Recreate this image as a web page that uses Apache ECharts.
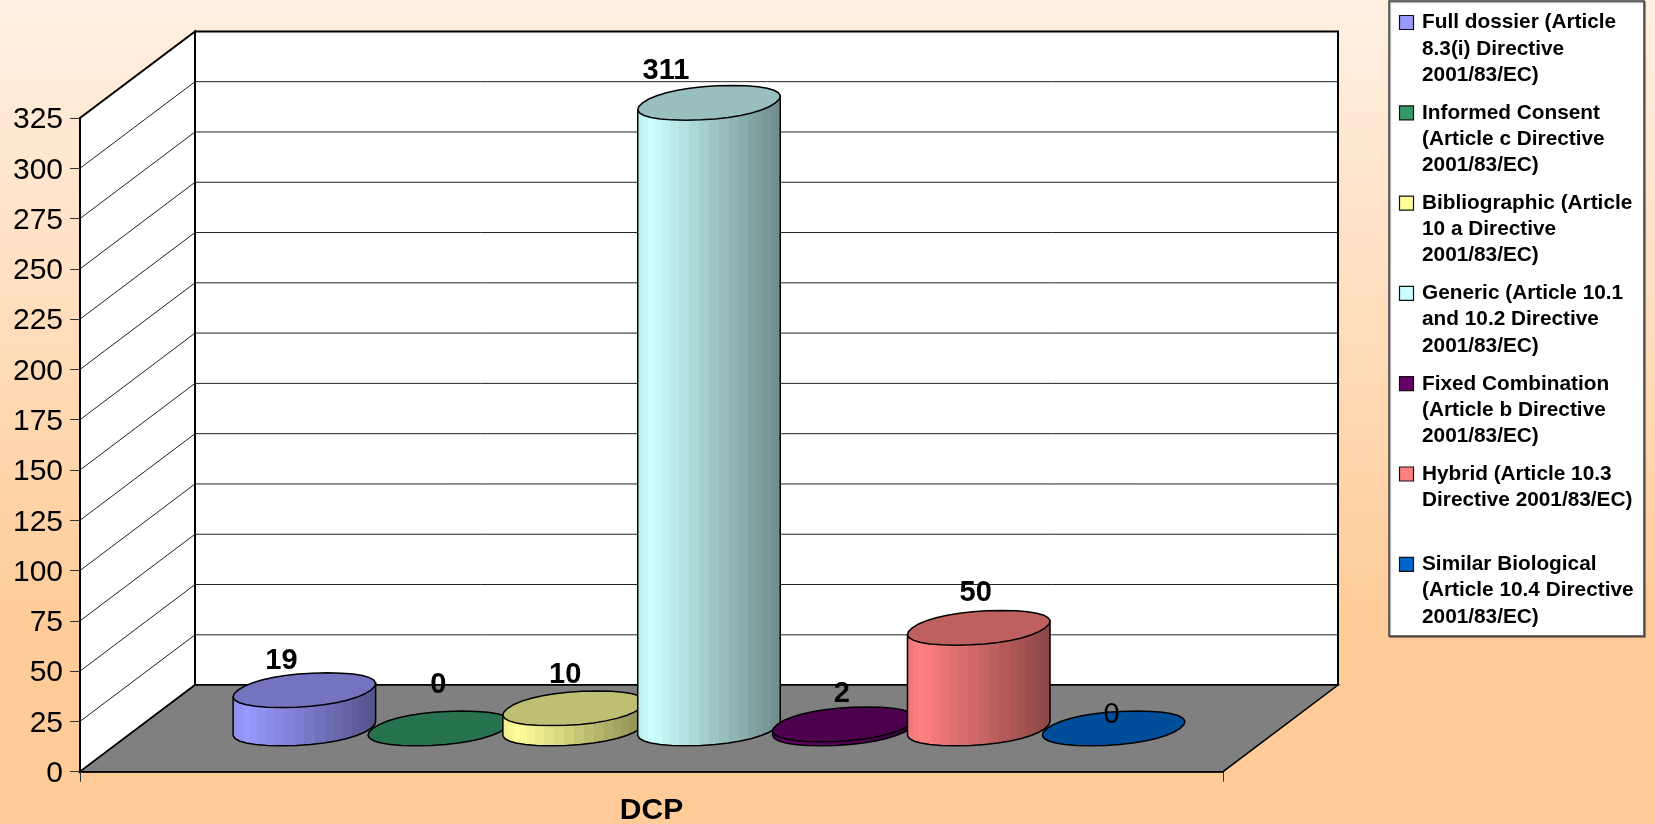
<!DOCTYPE html>
<html>
<head>
<meta charset="utf-8">
<title>DCP</title>
<script src="https://cdn.jsdelivr.net/npm/echarts@6/dist/echarts.min.js"></script>
<style>
html, body { margin: 0; padding: 0; }
#main { width: 1655px; height: 824px; }
</style>
</head>
<body>
<div id="main"></div>
<script>
const categories = ['DCP'];
const yTicks = [0, 25, 50, 75, 100, 125, 150, 175, 200, 225, 250, 275, 300, 325];
const seriesNames = [
	'Full dossier (Article\n8.3(i) Directive\n2001/83/EC)',
	'Informed Consent\n(Article c Directive\n2001/83/EC)',
	'Bibliographic (Article\n10 a Directive\n2001/83/EC)',
	'Generic (Article 10.1\nand 10.2 Directive\n2001/83/EC)',
	'Fixed Combination\n(Article b Directive\n2001/83/EC)',
	'Hybrid (Article 10.3\nDirective 2001/83/EC)',
	'Similar Biological\n(Article 10.4 Directive\n2001/83/EC)'
];
const seriesValues = [19, 0, 10, 311, 2, 50, 0];
const seriesColors = ['#9999FF', '#339966', '#FFFF99', '#CCFFFF', '#660066', '#FF8080', '#0066CC'];

// excel put the data labels wherever it liked, so these are by hand
const labelShiftX = [-23, -1, -9, -43, -2, -3, -2];
const labelShiftY = [-12, -26, -16, -15, -13, -18, 4];
const labelWeight = ['bold', 'bold', 'bold', 'bold', 'bold', 'bold', 'normal'];

const FONT = '"Liberation Sans", Arial, sans-serif';
const DEPTH_X = 115;
const DEPTH_Y = -86.6;
const SLOT = 0.118; // one cylinder as part of the category band
const ROUNDNESS = 0.92; // the excel ellipses are a bit fatter than true ones
const LEGEND_X = 1389;
const LEGEND_W = 255;
const LEGEND_H = 636;

const shade = (hex, k) => {
	const n = parseInt(hex.slice(1), 16);
	const r = Math.round((n >> 16 & 255) * k);
	const g = Math.round((n >> 8 & 255) * k);
	const b = Math.round((n & 255) * k);
	return 'rgb(' + r + ',' + g + ',' + b + ')';
};

// the side of a cylinder is faceted, so the gradient has hard stops
const bodyFill = (hex) => {
	const stops = [];
	const N = 22;
	for (let k = 0; k < N; k++) {
		const a = (1 - Math.cos(Math.PI * k / N)) / 2;
		const b = (1 - Math.cos(Math.PI * (k + 1) / N)) / 2;
		const m = (a + b) / 2;
		const f = m < 0.1 ? 0.92 + 0.8 * m : 1 - (m - 0.1) / 0.9 * 0.46;
		stops.push({ offset: a, color: shade(hex, f) });
		stops.push({ offset: b, color: shade(hex, f) });
	}
	return new echarts.graphic.LinearGradient(0, 0, 1, 0, stops);
};

const wallsItem = (params, api) => {
	const g = params.coordSys;
	const left = g.x;
	const right = g.x + g.width;
	const top = g.y;
	const bottom = g.y + g.height;
	const line = { stroke: '#000', lineWidth: 2, fill: '#fff' };
	const children = [
		{ type: 'polygon', shape: { points: [[left, bottom], [left, top], [left + DEPTH_X, top + DEPTH_Y], [left + DEPTH_X, bottom + DEPTH_Y]] }, style: line },
		{ type: 'polygon', shape: { points: [[left + DEPTH_X, top + DEPTH_Y], [right + DEPTH_X, top + DEPTH_Y], [right + DEPTH_X, bottom + DEPTH_Y], [left + DEPTH_X, bottom + DEPTH_Y]] }, style: line }
	];
	yTicks.forEach((t) => {
		if (t === 0 || t === yTicks[yTicks.length - 1]) return;
		const y = api.coord([0, t])[1];
		children.push({
			type: 'polyline',
			shape: { points: [[left, y], [left + DEPTH_X, y + DEPTH_Y], [right + DEPTH_X, y + DEPTH_Y]] },
			style: { stroke: '#222', lineWidth: 1, fill: null }
		});
	});
	children.push({
		type: 'polygon',
		shape: { points: [[left, bottom], [right, bottom], [right + DEPTH_X, bottom + DEPTH_Y], [left + DEPTH_X, bottom + DEPTH_Y]] },
		style: { fill: '#808080', stroke: '#000', lineWidth: 1.5 }
	});
	return { type: 'group', children: children };
};

const pow = (v) => Math.sign(v) * Math.pow(Math.abs(v), ROUNDNESS);

const cylinderItem = (i) => (params, api) => {
	const band = api.size([1, 0])[0];
	const base = api.coord([0, 0]);
	const head = api.coord([0, api.value(1)]);
	const rx = band * SLOT / 2 * 0.985;
	const qx = DEPTH_X * 0.2;
	const qy = DEPTH_Y * 0.2;
	const cx = base[0] + (i - 3) * band * SLOT + DEPTH_X * 0.5;
	const baseY = base[1] + DEPTH_Y * 0.5;
	const topY = head[1] + DEPTH_Y * 0.5;
	const at = (t, y) => [cx + rx * pow(Math.cos(t)) + qx * pow(Math.sin(t)), y + qy * pow(Math.sin(t))];

	// walk the ring and find the two side tips
	const STEPS = 32;
	let tipR = 0;
	let tipL = 0;
	const ring = [];
	for (let k = 0; k < STEPS; k++) {
		ring.push(at(k / STEPS * Math.PI * 2, topY));
		if (ring[k][0] > ring[tipR][0]) tipR = k;
		if (ring[k][0] < ring[tipL][0]) tipL = k;
	}

	const children = [];
	if (api.value(1) > 0) {
		// lower half of the base, from the right tip round to the left tip
		const body = [];
		for (let k = tipR + STEPS; k >= tipL; k--) {
			body.push(at(k / STEPS * Math.PI * 2, baseY));
		}
		body.push(ring[tipL]);
		body.push(ring[tipR]);
		children.push({
			type: 'polygon',
			shape: { points: body },
			style: { fill: bodyFill(seriesColors[i]), stroke: '#000', lineWidth: 1.5 }
		});
	}
	children.push({
		type: 'polygon',
		shape: { points: ring },
		style: { fill: shade(seriesColors[i], 0.75), stroke: '#000', lineWidth: 1.5 }
	});
	children.push({
		type: 'text',
		style: {
			text: String(api.value(1)),
			x: cx + labelShiftX[i],
			y: topY + qy + labelShiftY[i],
			align: 'center',
			verticalAlign: 'middle',
			font: labelWeight[i] + ' 29px ' + FONT,
			fill: '#000'
		}
	});
	return { type: 'group', children: children };
};

// legend drawn by hand: the swatch has to sit on the first line of the name
const legendGraphic = () => {
	const items = [{
		type: 'rect',
		shape: { x: LEGEND_X, y: 1, width: LEGEND_W, height: LEGEND_H - 1 },
		style: { fill: '#fff', stroke: '#444', lineWidth: 1.5, shadowColor: 'rgba(0,0,0,0.45)', shadowOffsetX: 1, shadowOffsetY: 1, shadowBlur: 1 }
	}];
	seriesNames.forEach((name, i) => {
		const y = 22.5 + i * 90.3;
		items.push({
			type: 'rect',
			shape: { x: LEGEND_X + 10.5, y: y - 7, width: 14, height: 14 },
			style: { fill: seriesColors[i], stroke: '#111', lineWidth: 1.2 }
		});
		items.push({
			type: 'text',
			style: {
				text: name,
				x: LEGEND_X + 33,
				y: y - 13,
				font: 'bold 20.8px ' + FONT,
				lineHeight: 26.2,
				fill: '#000',
				align: 'left',
				verticalAlign: 'top'
			}
		});
	});
	return items;
};

const series = [{
	name: 'walls',
	type: 'custom',
	silent: true,
	z: 1,
	data: [[0, 0]],
	renderItem: wallsItem
}];
seriesNames.forEach((name, i) => {
	series.push({
		name: name,
		type: 'custom',
		silent: true,
		z: 2 + i,
		data: [[0, seriesValues[i]]],
		renderItem: cylinderItem(i)
	});
});

const option = {
	animation: false,
	backgroundColor: new echarts.graphic.LinearGradient(0, 0, 0, 1, [
		{ offset: 0, color: '#FFF0E2' },
		{ offset: 0.75, color: '#FFCC99' },
		{ offset: 1, color: '#FFCC99' }
	]),
	grid: { left: 80, top: 118, width: 1143, height: 653.7, outerBoundsMode: 'none' },
	xAxis: {
		type: 'category',
		data: categories,
		axisLine: { lineStyle: { color: '#000', width: 1.5 } },
		axisTick: { show: true, length: 10, lineStyle: { color: '#333', width: 1 } },
		axisLabel: { fontFamily: FONT, fontSize: 30, fontWeight: 'bold', color: '#000', margin: 24 },
		z: 20
	},
	yAxis: {
		type: 'value',
		min: 0,
		max: 325,
		interval: 25,
		splitLine: { show: false },
		axisLine: { show: true, lineStyle: { color: '#000', width: 2 } },
		axisTick: { show: true, length: 10, lineStyle: { color: '#333', width: 1 } },
		// small lineHeight + top align sets the digits a little below the tick, as in the original
		axisLabel: { fontFamily: FONT, fontSize: 30, color: '#000', margin: 17, verticalAlign: 'top', lineHeight: 4 },
		z: 20
	},
	graphic: legendGraphic(),
	series: series
};

const myChart = echarts.init(document.getElementById('main'));
myChart.setOption(option);
</script>
</body>
</html>
